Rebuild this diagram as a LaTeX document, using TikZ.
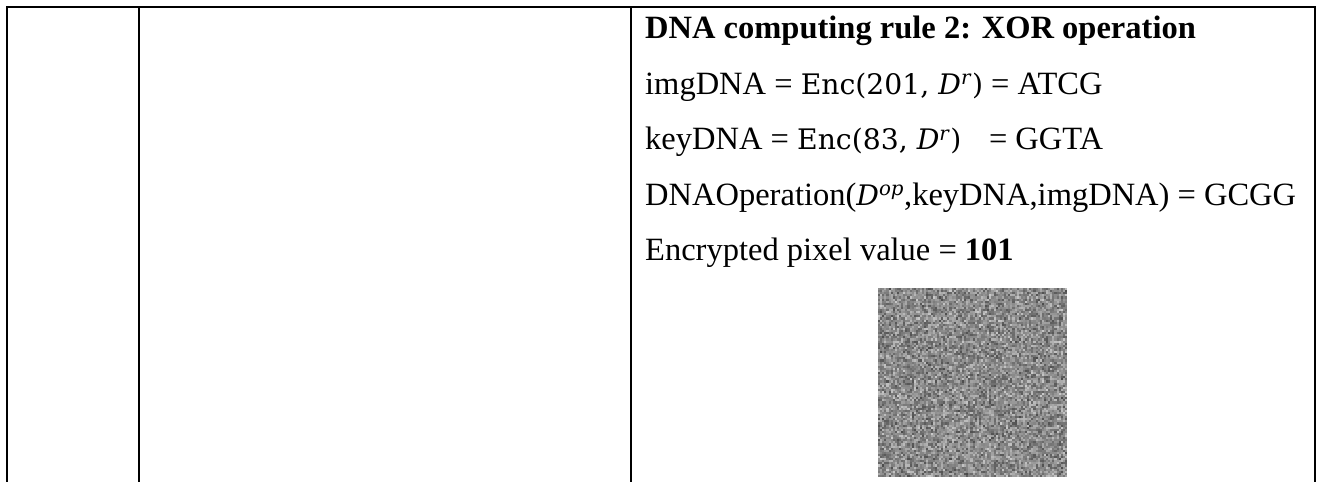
\documentclass[tikz,border=0pt]{standalone}
\usepackage{fontspec}
\setmainfont{Liberation Serif}
% equation parts: a wide, sturdy serif
\newfontfamily\eqf{DejaVu Serif}[Scale=0.87]
\newcommand{\Dsup}[1]{\textit{D}\textsuperscript{\textit{#1}}}
\begin{document}
\begin{tikzpicture}[x=1pt,y=-1pt,
  rule/.style={line width=2pt,black},
  rowtext/.style={anchor=base west,inner sep=0pt,font=\fontsize{32.5}{38}\selectfont},
  headtext/.style={anchor=base west,inner sep=0pt,font=\fontsize{32.5}{38}\selectfont\bfseries}]
\useasboundingbox (0,0) rectangle (1317,482);
% table frame: top rule and column separators
\draw[rule] (6,7) -- (1315.5,7);
\draw[rule] (7,6) -- (7,482);
\draw[rule] (138.7,7) -- (138.7,482);
\draw[rule] (630.5,7) -- (630.5,482);
\draw[rule] (1314.5,6) -- (1314.5,482);
% cell text
\node[headtext] (title) at (645,38.5) {DNA computing rule 2: XOR operation};
\node[rowtext] (img) at (645,94) {imgDNA = {\eqf Enc(201, \Dsup{r})} = ATCG};
\node[rowtext] (key) at (645,149.5) {keyDNA = {\eqf Enc(83, \Dsup{r})}\hspace{0.6em} = GGTA};
\node[rowtext] (op) at (645,205) {DNAOperation({\eqf\Dsup{op}},keyDNA,imgDNA) = GCGG};
\node[rowtext] (enc) at (645,260.5) {Encrypted pixel value = \textbf{101}};
% encrypted image: random grey noise
\pgfmathsetseed{4711}
\foreach \i in {0,...,89}{
  \foreach \j in {0,...,89}{
    \pgfmathsetmacro\g{int(20+rnd*26+rnd*26)}
    \fill[black!\g] ({878+\i*2.1},{288+\j*2.1}) rectangle ++(2.15,2.15);
  }
}
\node[inner sep=0pt,minimum width=189pt,minimum height=189pt,anchor=north west] (cipher) at (878,288) {};
\end{tikzpicture}
\end{document}
